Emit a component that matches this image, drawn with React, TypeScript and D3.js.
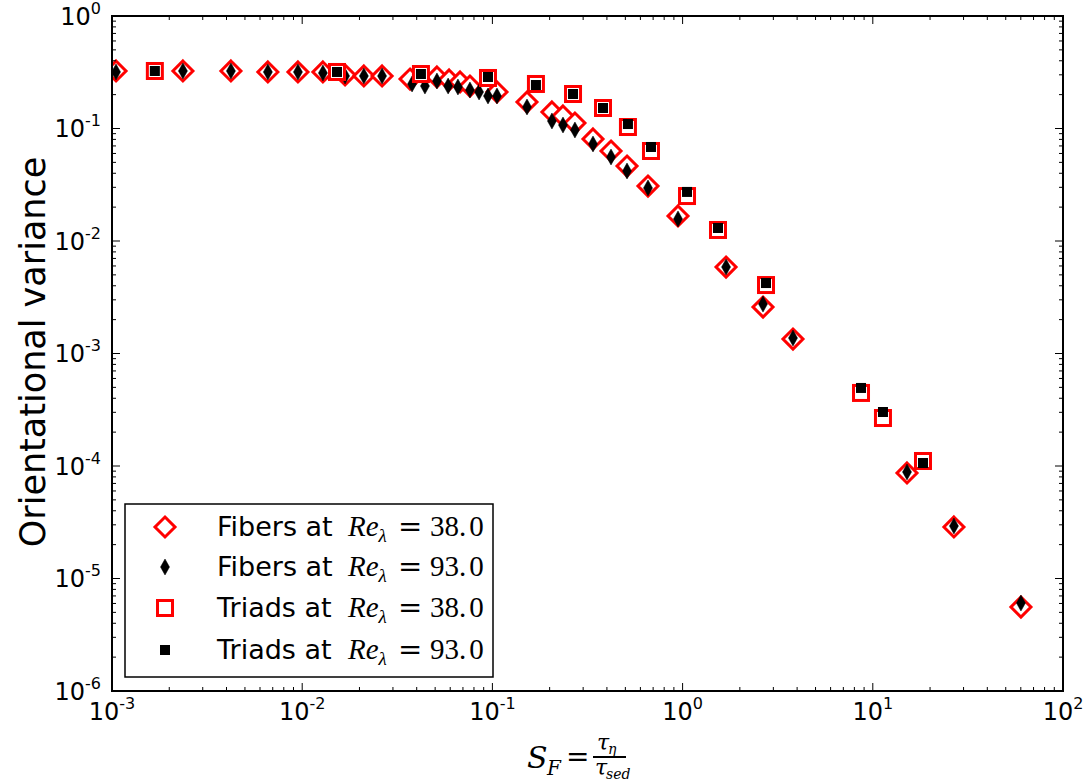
import React from 'react';
import * as d3 from 'd3';

// ---- data ----
const fib38X = [0.00105, 0.00236, 0.00422, 0.0066, 0.0095, 0.01285, 0.0168, 0.0211, 0.0263, 0.0369, 0.0511, 0.0592, 0.0676, 0.0762, 0.1057, 0.152, 0.2056, 0.235, 0.2716, 0.338, 0.4204, 0.5103, 0.6577, 0.946, 1.692, 2.647, 3.805, 15.13, 26.7, 60.1];
const fib38Y = [0.3245, 0.3245, 0.3245, 0.318, 0.318, 0.318, 0.2989, 0.2929, 0.2929, 0.2754, 0.287, 0.2699, 0.2591, 0.2385, 0.2111, 0.172, 0.1402, 0.1292, 0.1119, 0.0807, 0.0631, 0.0464, 0.0308, 0.0167, 0.00587, 0.00259, 0.001345, 0.0000867, 0.0000287, 0.00000558];

const fib93X = [0.00105, 0.00236, 0.00422, 0.0066, 0.0095, 0.01285, 0.0168, 0.0211, 0.0263, 0.0378, 0.0442, 0.0511, 0.0585, 0.0659, 0.0762, 0.0851, 0.0948, 0.1057, 0.152, 0.2056, 0.235, 0.2716, 0.338, 0.4204, 0.5103, 0.6577, 0.946, 1.692, 2.647, 3.805, 15.13, 26.7, 60.1];
const fib93Y = [0.318, 0.3245, 0.3245, 0.318, 0.318, 0.3113, 0.2929, 0.2929, 0.2929, 0.2487, 0.2385, 0.2644, 0.2385, 0.2337, 0.22, 0.2111, 0.1945, 0.1945, 0.1553, 0.1166, 0.1074, 0.097, 0.0728, 0.0558, 0.0419, 0.0296, 0.0157, 0.00587, 0.00275, 0.001373, 0.0000885, 0.0000293, 0.00000605];

const tri38X = [0.00168, 0.01524, 0.0421, 0.0948, 0.1694, 0.2654, 0.3815, 0.516, 0.682, 1.055, 1.535, 2.745, 8.67, 11.31, 18.36];
const tri38Y = [0.3245, 0.318, 0.305, 0.2812, 0.2487, 0.2026, 0.1521, 0.1031, 0.0631, 0.0251, 0.01253, 0.00406, 0.000446, 0.000267, 0.0001108];

const tri93X = [0.00168, 0.01524, 0.0421, 0.0948, 0.1694, 0.2654, 0.3815, 0.516, 0.682, 1.055, 1.535, 2.745, 8.67, 11.31, 18.36];
const tri93Y = [0.3245, 0.318, 0.305, 0.287, 0.2435, 0.2026, 0.1521, 0.1096, 0.0685, 0.0273, 0.01305, 0.00423, 0.000494, 0.000302, 0.0001063];

const xTickExps = [-3, -2, -1, 0, 1, 2];
const yTickExps = [-6, -5, -4, -3, -2, -1, 0];
const legendSeries = ['38.0', '93.0', '38.0', '93.0'];
const legendNames = ['Fibers at', 'Fibers at', 'Triads at', 'Triads at'];

const W = 1087;
const H = 783;
const L = 112, R = 1063, T = 16, B = 691;
const SANS = 'DejaVu Sans, sans-serif';
const SERIF = 'DejaVu Serif, Liberation Serif, serif';
const MATH = 'Liberation Serif, DejaVu Serif, serif';

function diamondPath(cx: number, cy: number, hw: number, hh: number) {
  return `M${cx},${cy - hh}L${cx + hw},${cy}L${cx},${cy + hh}L${cx - hw},${cy}Z`;
}

function Marker({ kind, cx, cy }: { kind: number; cx: number; cy: number }) {
  if (kind === 0) return <path d={diamondPath(cx, cy, 10, 10)} fill="white" stroke="#ff0000" strokeWidth={3} />;
  if (kind === 1) return <path d={diamondPath(cx, cy, 4.5, 8)} fill="black" stroke="black" strokeWidth={0.5} />;
  if (kind === 2) return <rect x={cx - 7.5} y={cy - 7.5} width={15} height={15} fill="white" stroke="#ff0000" strokeWidth={3} />;
  return <rect x={cx - 5} y={cy - 5} width={10} height={10} fill="black" />;
}

export default function App() {
  const x = d3.scaleLog().domain([1e-3, 1e2]).range([L, R]);
  const y = d3.scaleLog().domain([1e-6, 1]).range([B, T]);

  const minorX: number[] = [];
  for (let e = -3; e < 2; e++) for (let k = 2; k <= 9; k++) minorX.push(k * Math.pow(10, e));
  const minorY: number[] = [];
  for (let e = -6; e < 0; e++) for (let k = 2; k <= 9; k++) minorY.push(k * Math.pow(10, e));

  const series = [
    { xs: fib38X, ys: fib38Y },
    { xs: fib93X, ys: fib93Y },
    { xs: tri38X, ys: tri38Y },
    { xs: tri93X, ys: tri93Y },
  ];

  const legX = 125, legY = 504, legW = 368, legH = 173;
  const rowY = [527, 567, 608, 650];

  return (
    <svg width={W} height={H} style={{ position: 'absolute', left: 0, top: 0, background: 'white' }}>
      <rect x={0} y={0} width={W} height={H} fill="white" />
      <defs>
        <clipPath id="plotclip">
          <rect x={L} y={T} width={R - L} height={B - T} />
        </clipPath>
      </defs>

      {/* markers */}
      <g clipPath="url(#plotclip)">
        {series.map((s, si) =>
          s.xs.map((v, i) => <Marker key={`${si}-${i}`} kind={si} cx={x(v)} cy={y(s.ys[i])} />)
        )}
      </g>

      {/* ticks */}
      <g stroke="black" strokeWidth={1}>
        {xTickExps.map((e) => {
          const px = x(Math.pow(10, e));
          return (
            <g key={`xt${e}`}>
              <line x1={px} x2={px} y1={B} y2={B - 8} />
              <line x1={px} x2={px} y1={T} y2={T + 8} />
            </g>
          );
        })}
        {minorX.map((v, i) => {
          const px = x(v);
          return (
            <g key={`xm${i}`}>
              <line x1={px} x2={px} y1={B} y2={B - 4} />
              <line x1={px} x2={px} y1={T} y2={T + 4} />
            </g>
          );
        })}
        {yTickExps.map((e) => {
          const py = y(Math.pow(10, e));
          return (
            <g key={`yt${e}`}>
              <line x1={L} x2={L + 8} y1={py} y2={py} />
              <line x1={R} x2={R - 8} y1={py} y2={py} />
            </g>
          );
        })}
        {minorY.map((v, i) => {
          const py = y(v);
          return (
            <g key={`ym${i}`}>
              <line x1={L} x2={L + 4} y1={py} y2={py} />
              <line x1={R} x2={R - 4} y1={py} y2={py} />
            </g>
          );
        })}
      </g>

      {/* frame */}
      <rect x={L} y={T} width={R - L} height={B - T} fill="none" stroke="black" strokeWidth={2} />

      {/* tick labels */}
      <g fontFamily={SANS} fill="black">
        {xTickExps.map((e) => (
          <text key={`xl${e}`} x={x(Math.pow(10, e))} y={720} textAnchor="middle" fontSize={24}>
            10<tspan fontSize={16} dy={-11}>{e}</tspan>
          </text>
        ))}
        {yTickExps.map((e) => (
          <text key={`yl${e}`} x={101} y={y(Math.pow(10, e)) + 8.5} textAnchor="end" fontSize={24}>
            10<tspan fontSize={16} dy={-11}>{e}</tspan>
          </text>
        ))}
      </g>

      {/* axis labels */}
      <text
        transform="translate(45,352) rotate(-90)"
        textAnchor="middle"
        fontFamily={SANS}
        fontSize={35}
        fill="black"
      >
        Orientational variance
      </text>

      <g fontFamily={SERIF} fill="black" fontStyle="italic">
        <text x={527} y={768} fontSize={30}>S</text>
        <text x={547} y={775} fontSize={20}>F</text>
        <text x={566} y={766} fontSize={28} fontStyle="normal">=</text>
        <text x={597} y={750} fontSize={22}>τ</text>
        <text x={608} y={754} fontSize={14}>η</text>
        <line x1={593} x2={626} y1={757} y2={757} stroke="black" strokeWidth={2} />
        <text x={595} y={775} fontSize={22}>τ</text>
        <text x={606} y={779} fontSize={14}>sed</text>
      </g>

      {/* legend */}
      <rect x={legX} y={legY} width={legW} height={legH} fill="white" stroke="black" strokeWidth={1.5} />
      {legendNames.map((name, i) => (
        <g key={`lg${i}`}>
          <Marker kind={i} cx={165} cy={rowY[i]} />
          <text x={217} y={rowY[i] + 9} fontFamily={SANS} fontSize={27} fill="black">
            {name}
          </text>
          <text x={348} y={rowY[i] + 9} fontFamily={MATH} fontSize={29} fill="black" fontStyle="italic">
            Re<tspan fontSize={19} dy={6}>λ</tspan>
          </text>
          <text x={398} y={rowY[i] + 9} fontFamily={SANS} fontSize={29} fill="black">
            =
          </text>
          <text x={430} y={rowY[i] + 9} fontFamily={MATH} fontSize={29} fill="black">
            {legendSeries[i].slice(0, 3)}
            <tspan dx={3}>{legendSeries[i].slice(3)}</tspan>
          </text>
        </g>
      ))}
    </svg>
  );
}
